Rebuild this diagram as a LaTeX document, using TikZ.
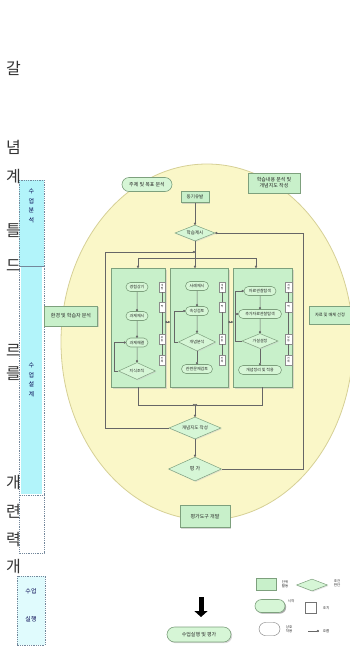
\documentclass[tikz,border=0pt]{standalone}
\usepackage{fontspec}
\newfontfamily\kr{Noto Sans CJK KR}
\usepackage{xcolor}
\definecolor{ellfill}{RGB}{250,247,200}
\definecolor{ellline}{RGB}{214,208,150}
\definecolor{boxgreen}{RGB}{200,240,202}
\definecolor{boxline}{RGB}{125,160,125}
\definecolor{pillgreen}{RGB}{214,246,214}
\definecolor{sidecyan}{RGB}{178,244,250}
\definecolor{sideline}{RGB}{115,135,155}
\usepackage{tikz}
\usetikzlibrary{arrows.meta, calc, positioning, shapes.geometric, shapes.misc, shadows}
\newcommand{\ksize}[1]{\fontsize{#1}{\dimexpr#1pt*6/5\relax}\selectfont}

\begin{document}
\begin{tikzpicture}[x=1pt, y=-1pt,
  every node/.style={inner sep=0pt, text=black!85, font=\kr\ksize{4}},
  unitbox/.style={rectangle, draw=boxline, fill=boxgreen, line width=0.4pt, align=center,
    drop shadow={shadow xshift=1.2pt, shadow yshift=-1.2pt, fill=black!30}},
  panel/.style={rectangle, draw=boxline, fill=boxgreen, line width=0.5pt, minimum height=119pt,
    drop shadow={shadow xshift=1.5pt, shadow yshift=-1.5pt, fill=black!25}},
  pill/.style={rounded rectangle, draw=boxline, fill=pillgreen, line width=0.6pt, align=center,
    minimum height=9pt},
  cond/.style={diamond, draw=boxline, fill=pillgreen, line width=0.5pt, align=center, aspect=2.3,
    drop shadow={shadow xshift=1pt, shadow yshift=-1pt, fill=black!20}},
  grp/.style={rectangle, draw=black!45, fill=white, minimum width=6.5pt, minimum height=10pt,
    align=center, font=\kr\ksize{2.6}},
  line/.style={draw=black!60, line width=0.5pt},
  flow/.style={line, -{Circle[length=2.2pt]}},
  sidebar/.style={draw=sideline, densely dotted, line width=0.8pt},
  sidetext/.style={align=center, text=black!70!blue, font=\kr\fontsize{6}{9.5}\selectfont},
  margin/.style={anchor=east, text=black!80, font=\kr\ksize{16}}]
  \useasboundingbox (0,0) rectangle (349,659);

  % 잘린 본문 글자
  \node[margin] (m1) at (21,68) {갈};
  \node[margin] (m2) at (21,147) {념};
  \node[margin] (m3) at (21,177) {계};
  \node[margin] (m4) at (21,231) {틀};
  \node[margin] (m5) at (21,266) {드};
  \node[margin] (m6) at (21,350) {르};
  \node[margin] (m7) at (21,374) {를};
  \node[margin] (m8) at (21,483) {개};
  \node[margin] (m9) at (21,511) {련};
  \node[margin] (m10) at (21,540) {력};
  \node[margin] (m11) at (21,567) {개};

  % 왼쪽 단계 막대
  \fill[sidecyan] (19,180) rectangle (44,266);
  \fill[sidecyan] (21,267) rectangle (42,494);
  \fill[sidecyan!40] (17,576) rectangle (45,645);
  \draw[sidebar] (19,180) rectangle (44,266);
  \draw[sidebar] (19,266) rectangle (44,495);
  \draw[sidebar] (19,495) rectangle (44,553);
  \draw[sidebar] (17,576) rectangle (45,645);
  \node[sidetext] (st1) at (31.5,206) {수\\업\\분\\석};
  \node[sidetext] (st2) at (31.5,380) {수\\업\\설\\계};
  \node[sidetext] (st3) at (31,605) {수업\\[18pt]실행};

  % 바탕 타원
  \draw[ellline, fill=ellfill, line width=0.8pt] (207,342) ellipse (146pt and 178pt);

  % 위쪽 상자
  \node[pill, minimum width=50pt, minimum height=14pt, font=\kr\ksize{5}] (topic) at (147,184.5) {주제 및 목표 분석};
  \node[unitbox, minimum width=52pt, minimum height=20pt, font=\kr\ksize{5}] (content) at (274,183) {학습내용 분석 및\\개념지도 작성};
  \node[unitbox, minimum width=28pt, minimum height=11pt, font=\kr\ksize{4.5}] (motiv) at (195,197) {동기유발};
  \node[cond, aspect=2.5, minimum width=40pt, minimum height=16pt, font=\kr\ksize{4.5}] (present) at (195,233) {학습제시};

  % 양옆 상자
  \node[unitbox, minimum width=53pt, minimum height=20pt, font=\kr\ksize{5}] (learner) at (71,316) {환경 및 학습자 분석};
  \node[unitbox, minimum width=41pt, minimum height=18pt, font=\kr\ksize{4.2}] (media) at (330,315) {자료 및 매체 선정};

  % 세 개의 활동판
  \node[panel, minimum width=54pt] (p1) at (138,327.5) {};
  \node[panel, minimum width=58pt] (p2) at (199,327.5) {};
  \node[panel, minimum width=59pt] (p3) at (262.5,327.5) {};

  % 활동판 1
  \node[pill, minimum width=22pt] (a1) at (137,287) {경험상기};
  \node[pill, minimum width=22pt] (a2) at (137,316) {과제제시};
  \node[pill, minimum width=22pt] (a3) at (137,342.5) {과제해결};
  \node[cond, minimum width=37pt, minimum height=17pt] (a4) at (137,371) {지식조직};
  \draw[flow] (a1) -- (a2);
  \draw[flow] (a2) -- (a3);
  \draw[flow] (a3) -- (a4);
  \draw[flow] (a4.west) -- ++(-4,0) |- (a3.west);

  % 활동판 2
  \node[pill, minimum width=23pt] (b1) at (197,286) {사례제시};
  \node[pill, minimum width=23pt] (b2) at (197,311) {속성검토};
  \node[cond, minimum width=37pt, minimum height=18pt] (b3) at (197,342) {개념분석};
  \node[pill, minimum width=31pt] (b4) at (197,369) {관련문제검토};
  \draw[flow] (b1) -- (b2);
  \draw[flow] (b2) -- (b3);
  \draw[flow] (b3) -- (b4);
  \draw[flow] (b3.west) -- ++(-4,0) |- (b2.west);

  % 활동판 3
  \node[pill, minimum width=32pt] (c1) at (260,291) {자료관찰탐색};
  \node[pill, minimum width=43pt] (c2) at (260,314) {추가자료관찰탐색};
  \node[cond, minimum width=36pt, minimum height=15pt] (c3) at (260,341) {가설설정};
  \node[pill, minimum width=43pt] (c4) at (260,370) {개념정리 및 적용};
  \coordinate (lp3) at (235,0);
  \draw[flow] (c1) -- (c2);
  \draw[flow] (c2) -- (c3);
  \draw[flow] (c3) -- (c4);
  \draw[flow] (c3.west) -- (c3.west -| lp3) |- (c1.west);
  \draw[flow] (c2.west -| lp3) -- (c2.west);

  % 학습 집단
  \node[grp] (g11) at (162,287) {개\\별};
  \node[grp] (g12) at (162,307) {짝};
  \node[grp] (g13) at (162,339) {모\\둠};
  \node[grp] (g14) at (162,360) {전\\체};
  \node[grp] (g21) at (222,287) {개\\별};
  \node[grp] (g22) at (222,307) {짝};
  \node[grp] (g23) at (222,339) {모\\둠};
  \node[grp] (g24) at (222,360) {전\\체};
  \node[grp] (g31) at (288.5,287) {개\\별};
  \node[grp] (g32) at (288.5,307) {짝};
  \node[grp] (g33) at (288.5,339) {모\\둠};
  \node[grp] (g34) at (288.5,360) {전\\체};
  \draw[line] (g11) -- (g12) -- (g13) -- (g14);
  \draw[line] (g21) -- (g22) -- (g23) -- (g24);
  \draw[line] (g31) -- (g32) -- (g33) -- (g34);
  \coordinate (mid) at (0,322);
  \draw[line, {Circle[length=2pt]}-{Circle[length=2pt]}] (p1.east |- mid) -- (p2.west |- mid);
  \draw[line, {Circle[length=2pt]}-{Circle[length=2pt]}] (p2.east |- mid) -- (p3.west |- mid);

  % 아래쪽 판단
  \node[cond, aspect=2.4, minimum width=52pt, minimum height=22pt, font=\kr\ksize{4.5}] (guide) at (195,428) {개념지도 작성};
  \node[cond, minimum width=53pt, minimum height=24pt, font=\kr\ksize{5}] (eval) at (195,469) {평 가};
  \node[unitbox, minimum width=50pt, minimum height=22pt, font=\kr\ksize{5}] (tool) at (205,516.5) {평가도구 개발};

  % 흐름
  \coordinate (split) at (195,258);
  \coordinate (d3) at (256,0);
  \coordinate (merge) at (195,405);
  \coordinate (lx) at (105,252);
  \coordinate (rtop) at (303,233);
  \draw[flow] (motiv) -- (present);
  \draw[line] (present.south) -- (split);
  \draw[flow] (split) -| (p1.north);
  \draw[flow] (split) -- (split |- p2.north);
  \draw[flow] (split) -| (d3 |- p3.north);
  \draw[flow] (p1.south) |- (merge);
  \draw[flow] (p3.south) |- (merge);
  \draw[flow] (merge) -- (guide.north);
  \draw[flow] (guide) -- (eval);
  \draw[flow] (guide.west) -| (lx) -- (lx -| split);
  \draw[flow] (eval.east) -| (rtop) -- (present.east);

  % 실행 단계
  \coordinate (down1) at (201,597);
  \coordinate (down2) at (201,617);
  \draw[line width=5pt, -{Triangle[length=6pt, width=13pt]}] (down1) -- (down2);
  \node[pill, minimum width=64pt, minimum height=15pt, font=\kr\ksize{5},
    drop shadow={shadow xshift=1.2pt, shadow yshift=-1.2pt, fill=black!30}] (final) at (199,634.5) {수업실행 및 평가};

  % 범례
  \node[unitbox, minimum width=20pt, minimum height=12pt] (lg1) at (266,584) {};
  \node[font=\kr\ksize{3.5}, align=center] (lt1) at (285,584) {단위\\활동};
  \node[cond, aspect=2.6, minimum width=31pt, minimum height=12pt] (lg2) at (312,585) {};
  \node[font=\kr\ksize{3.5}, align=center] (lt2) at (337,583) {조건\\판단};
  \node[pill, minimum width=30pt, minimum height=13pt,
    drop shadow={shadow xshift=1.2pt, shadow yshift=-1.2pt, fill=black!65}] (lg3) at (270,606) {};
  \node[font=\kr\ksize{3.5}] (lt3) at (291,601) {시작};
  \node[rectangle, draw=black!55, fill=white, minimum width=11pt, minimum height=11pt] (lg4) at (311,608) {};
  \node[font=\kr\ksize{3.5}] (lt4) at (326,608) {조치};
  \node[rounded rectangle, draw=black!55, fill=white, minimum width=21pt, minimum height=13pt] (lg5) at (269.5,629) {};
  \node[font=\kr\ksize{3.5}, align=center] (lt5) at (289,629) {상호\\작용};
  \coordinate (lgs) at (308,631);
  \coordinate (lge) at (319,631);
  \draw[flow] (lgs) -- (lge);
  \node[font=\kr\ksize{3.5}] (lt6) at (326,631) {흐름};
\end{tikzpicture}
\end{document}
